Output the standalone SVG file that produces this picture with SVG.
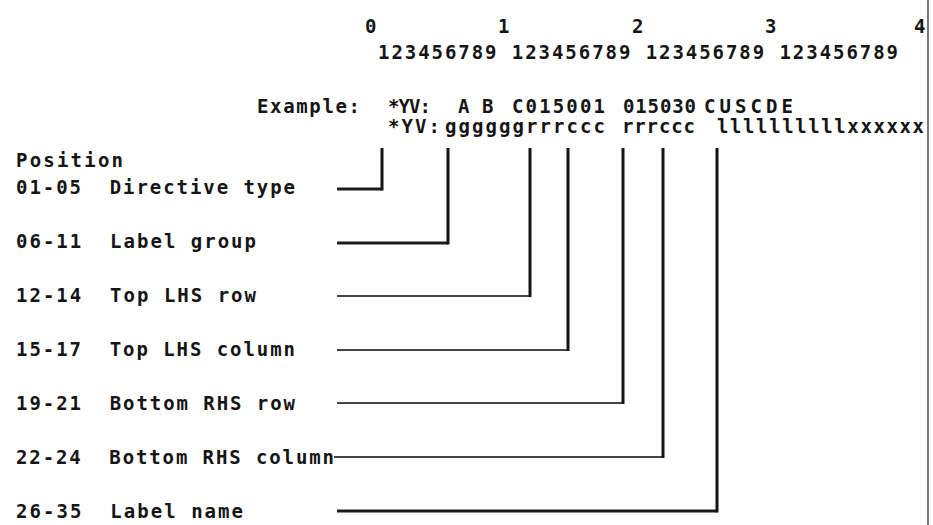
<svg xmlns="http://www.w3.org/2000/svg" width="933" height="525" viewBox="0 0 933 525">
  <style>
    text { font-family: "DejaVu Sans Mono", "Liberation Mono", monospace; font-weight: bold; font-size: 19px; fill: #151515; white-space: pre; }
    .v { stroke: #141414; stroke-width: 3; fill: none; }
    .h { stroke: #1c1c1c; stroke-width: 2.8; fill: none; }
    .ht { stroke: #444; stroke-width: 2; fill: none; }
    .border { stroke: #555; stroke-width: 1.6; }
  </style>
  <rect width="933" height="525" fill="#ffffff"/>

  <!-- right-hand margin rule -->
  <line class="border" x1="928" y1="0" x2="928" y2="525"/>

  <!-- column ruler -->
  <g id="ruler">
    <text x="365" y="33">0</text>
    <text x="498" y="33">1</text>
    <text x="632" y="33">2</text>
    <text x="765" y="33">3</text>
    <text x="914" y="33">4</text>
    <text x="378" y="59" textLength="520" lengthAdjust="spacing">123456789 123456789 123456789 123456789</text>
  </g>

  <!-- example directive and field template -->
  <g id="example">
    <text x="257" y="113" textLength="103" lengthAdjust="spacing">Example:</text>
    <text x="388" y="113" textLength="43" lengthAdjust="spacing">*YV:</text>
    <text x="458" y="113">A</text>
    <text x="482" y="113">B</text>
    <text x="512" y="113" textLength="93" lengthAdjust="spacing">C015001</text>
    <text x="623" y="113" textLength="73" lengthAdjust="spacing">015030</text>
    <text x="704" y="113" textLength="89" lengthAdjust="spacing">CUSCDE</text>
    <text x="388" y="133" textLength="52" lengthAdjust="spacing">*YV:</text>
    <text x="445" y="133" textLength="160" lengthAdjust="spacing">ggggggrrrccc</text>
    <text x="622" y="133" textLength="73" lengthAdjust="spacing">rrrccc</text>
    <text x="717" y="133" textLength="207" lengthAdjust="spacing">llllllllllxxxxxx</text>
  </g>

  <!-- field legend -->
  <g id="legend">
    <text x="16" y="167" textLength="107" lengthAdjust="spacing">Position</text>
    <g id="f01"><text x="16" y="194" textLength="279" lengthAdjust="spacing">01-05  Directive type</text></g>
    <g id="f06"><text x="16" y="248" textLength="240" lengthAdjust="spacing">06-11  Label group</text></g>
    <g id="f12"><text x="16" y="302" textLength="240" lengthAdjust="spacing">12-14  Top LHS row</text></g>
    <g id="f15"><text x="16" y="356" textLength="279" lengthAdjust="spacing">15-17  Top LHS column</text></g>
    <g id="f19"><text x="16" y="410" textLength="279" lengthAdjust="spacing">19-21  Bottom RHS row</text></g>
    <g id="f22"><text x="16" y="464" textLength="318" lengthAdjust="spacing">22-24  Bottom RHS column</text></g>
    <g id="f26"><text x="16" y="518" textLength="227" lengthAdjust="spacing">26-35  Label name</text></g>
  </g>

  <!-- leader lines from legend to columns -->
  <g id="connectors">
    <path class="h" d="M337 189H382"/>
    <path class="v" d="M382 148V190.5"/>
    <path class="h" d="M337 243H448"/>
    <path class="v" d="M448 148V244.5"/>
    <path class="ht" d="M337 296H530"/>
    <path class="v" d="M530 148V297"/>
    <path class="ht" d="M337 350H568"/>
    <path class="v" d="M568 148V351"/>
    <path class="ht" d="M337 403H623"/>
    <path class="v" d="M623 148V404"/>
    <path class="ht" d="M334 457H663"/>
    <path class="v" d="M663 148V458"/>
    <path class="h" d="M337 511H717"/>
    <path class="v" d="M717 148V512.5"/>
  </g>
</svg>
